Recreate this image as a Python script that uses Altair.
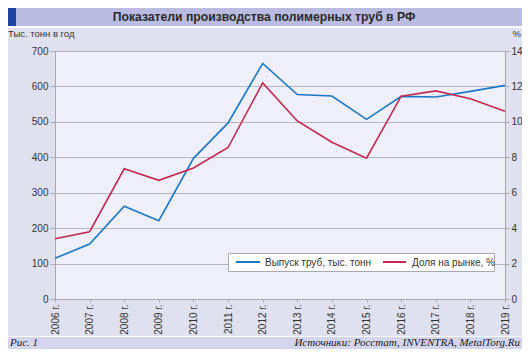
import altair as alt
import pandas as pd

# ---- data ----
years = ["2006 г.", "2007 г.", "2008 г.", "2009 г.", "2010 г.", "2011 г.", "2012 г.",
         "2013 г.", "2014 г.", "2015 г.", "2016 г.", "2017 г.", "2018 г.", "2019 г."]
production = [115, 155, 262, 221, 397, 497, 665, 577, 573, 507, 572, 570, 586, 603]
share = [3.4, 3.8, 7.35, 6.7, 7.4, 8.55, 12.2, 10.05, 8.85, 7.95, 11.45, 11.75, 11.3, 10.6]

series_names = ["Выпуск труб, тыс. тонн", "Доля на рынке, %"]
series_colors = ["#1a78c6", "#c2294f"]
left_ticks = [0, 100, 200, 300, 400, 500, 600, 700]
right_ticks = [0, 2, 4, 6, 8, 10, 12, 14]

title_text = "Показатели производства полимерных труб в РФ"
left_unit = "Тыс. тонн в год"
right_unit = "%"
fig_text = "Рис. 1"
source_text = "Источники: Росстат, INVENTRA, MetalTorg.Ru"

df_prod = pd.DataFrame({"year": years, "value": production, "series": series_names[0]})
df_share = pd.DataFrame({"year": years, "value": share, "series": series_names[1]})
dummy = pd.DataFrame({"d": [0]})

W, H = 450, 248
PL, PT = 47, 43
TOTAL_W, TOTAL_H = 514, 341

axis_gray = "#a6a6ae"
text_col = "#333333"

xenc = alt.X("year:N", sort=years,
             scale=alt.Scale(type="point", padding=0),
             axis=alt.Axis(title=None, labelAngle=270, labelAlign="right", labelBaseline="middle",
                           tickSize=3, labelPadding=2, domainColor=axis_gray, tickColor=axis_gray,
                           labelColor=text_col, labelFontSize=10, grid=False))

color = alt.Color("series:N",
                  scale=alt.Scale(domain=series_names, range=series_colors),
                  legend=None)

line_prod = alt.Chart(df_prod).mark_line(strokeWidth=1.6).encode(
    x=xenc,
    y=alt.Y("value:Q", scale=alt.Scale(domain=[0, 700], nice=False),
            axis=alt.Axis(title=None, values=left_ticks, grid=True, gridColor="#b5b5bd",
                          domainColor=axis_gray, tickColor=axis_gray, tickSize=5,
                          labelPadding=2, labelColor=text_col, labelFontSize=10)),
    color=color,
)

line_share = alt.Chart(df_share).mark_line(strokeWidth=1.6).encode(
    x=xenc,
    y=alt.Y("value:Q", scale=alt.Scale(domain=[0, 14], nice=False),
            axis=alt.Axis(title=None, orient="right", values=right_ticks, grid=False,
                          domainColor=axis_gray, tickColor=axis_gray, tickSize=4,
                          labelPadding=2, labelColor=text_col, labelFontSize=10)),
    color=color,
)


def rect(x1, x2, y1, y2, fill, **kw):
    return alt.Chart(dummy).mark_rect(color=fill, **kw).encode(
        x=alt.value(x1), x2=alt.value(x2), y=alt.value(y1), y2=alt.value(y2))


def rule(x1, x2, y, col):
    return alt.Chart(dummy).mark_rule(color=col, strokeWidth=2).encode(
        x=alt.value(x1), x2=alt.value(x2), y=alt.value(y))


def txt(s, x, y, **kw):
    return alt.Chart(dummy).mark_text(text=s, **kw).encode(x=alt.value(x), y=alt.value(y))


# coordinates relative to plot origin (page 55, 51)
TB = 18  # title bar height
top_bar = rect(-PL + 8, TOTAL_W - PL, -PT, -PT + TB, "#b9bce0")
top_square = rect(-PL, -PL + 8, -PT, -PT + TB, "#1d45a0")
top_white = rect(-PL, TOTAL_W - PL, -PT + TB, -PT + TB + 2, "#ffffff")
bot_white = rect(-PL, TOTAL_W - PL, TOTAL_H - PT - 13, TOTAL_H - PT - 12, "#ffffff")
bot_bar = rect(-PL, TOTAL_W - PL, TOTAL_H - PT - 12, TOTAL_H - PT, "#d3d5eb")

title = txt(title_text, 209, -PT + TB / 2, fontSize=12.2, fontWeight="bold", color="#2a2a2a",
            align="center", baseline="middle")
lunit = txt(left_unit, -PL, -17, fontSize=9.5, color=text_col, align="left", baseline="middle")
runit = txt(right_unit, TOTAL_W - PL - 1, -17, fontSize=9.5, color=text_col, align="right",
            baseline="middle")
fig = txt(fig_text, -PL + 2, TOTAL_H - PT - 6, fontSize=11, fontStyle="italic",
          font="Liberation Serif", color="#222222", align="left", baseline="middle")
src = txt(source_text, TOTAL_W - PL - 2, TOTAL_H - PT - 6, fontSize=11, fontStyle="italic",
          font="Liberation Serif", color="#222222", align="right", baseline="middle")

# legend box (drawn by hand to match the reference's compact box)
leg_box = rect(173.5, 439.5, 202.5, 220.5, "#ffffff", stroke="#a8a8b0", strokeWidth=1)
leg_l1 = rule(181, 205, 211, series_colors[0])
leg_t1 = txt(series_names[0], 210, 211.5, fontSize=10, color=text_col, align="left",
             baseline="middle")
leg_l2 = rule(328, 351, 211, series_colors[1])
leg_t2 = txt(series_names[1], 357, 211.5, fontSize=10, color=text_col, align="left",
             baseline="middle")

chart = alt.layer(
    top_bar, top_square, top_white, bot_white, bot_bar,
    title, lunit, runit, fig, src,
    line_prod, line_share,
    leg_box, leg_l1, leg_t1, leg_l2, leg_t2,
).resolve_scale(y="independent").properties(
    width=W, height=H,
    autosize=alt.AutoSizeParams(type="none"),
    padding={"left": PL, "top": PT, "right": TOTAL_W - PL - W, "bottom": TOTAL_H - PT - H},
    background="#dfe1ef",
).configure(font="Liberation Sans").configure_view(fill="#eeeff8", stroke="transparent")

chart.save("out.html", embed_options={"renderer": "svg", "actions": False})
